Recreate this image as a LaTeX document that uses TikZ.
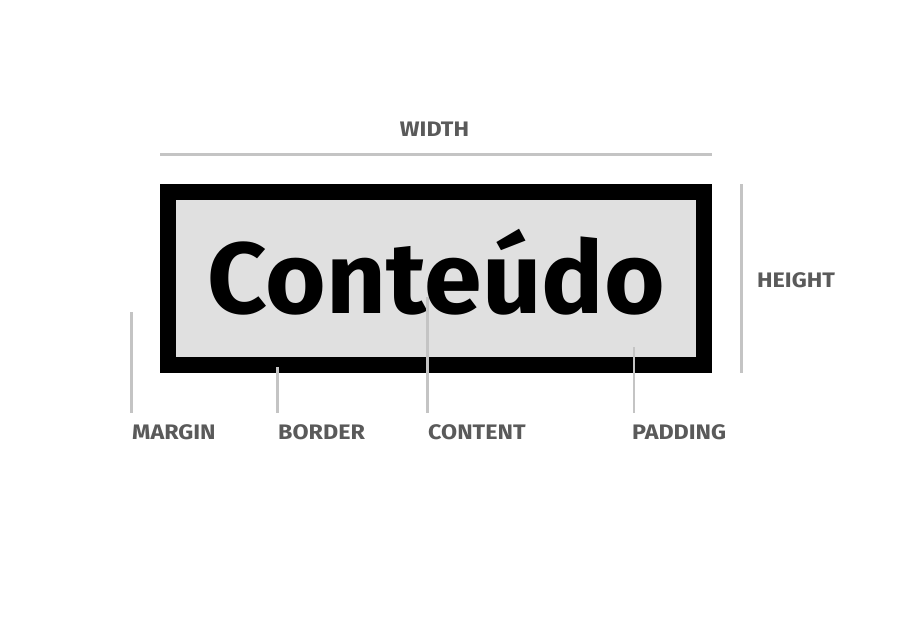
\documentclass[tikz,border=0pt]{standalone}
\usepackage{fontspec}
\setmainfont{Fira Sans}
\newfontfamily\lblfont[FakeStretch=1.11]{Fira Sans}
\newfontfamily\bigfont[FakeStretch=1.03]{Fira Sans}
\definecolor{guidegray}{HTML}{C4C4C4}
\definecolor{labelgray}{HTML}{5A5A5A}
\definecolor{innergray}{HTML}{E0E0E0}
\begin{document}
\begin{tikzpicture}[x=1pt,y=-1pt]
\tikzset{
  guide/.style={draw=guidegray,line width=2.5pt},
  lbl/.style={text=labelgray,font=\lblfont\fontsize{21}{21}\selectfont\bfseries,inner sep=0pt,anchor=base west},
  boxpart/.style={inner sep=0pt,outer sep=0pt,anchor=north west}
}
\fill[white] (0,0) rectangle (899,622);
\useasboundingbox (0,0) rectangle (899,622);
% box
\node[boxpart,fill=black,minimum width=551.4pt,minimum height=189pt] (outer) at (160.3,184) {};
\node[boxpart,fill=innergray,minimum width=520.6pt,minimum height=157.3pt] (inner) at (175.7,200) {};
\node[font=\bigfont\fontsize{101}{101}\selectfont\bfseries,anchor=base,inner sep=0pt] (content) at (436.4,313.3) {Conteúdo};
% width
\coordinate (wl) at (160.3,154.3);
\coordinate (wr) at (711.7,154.3);
\draw[guide] (wl) -- (wr);
\node[lbl,anchor=base] (widthlbl) at (434.5,136.7) {WIDTH};
% height
\coordinate (ht) at (741.7,184.3);
\coordinate (hb) at (741.7,373);
\draw[guide] (ht) -- (hb);
\node[lbl] (heightlbl) at (757,287) {HEIGHT};
% bottom labels
\node[lbl] (marginlbl) at (132,439.3) {MARGIN};
\node[lbl] (borderlbl) at (278,439.3) {BORDER};
\node[lbl] (contentlbl) at (428,439.3) {CONTENT};
\node[lbl] (paddinglbl) at (632,439.3) {PADDING};
\coordinate (mt) at (131.7,312.3);
\coordinate (mb) at (131.7,413.3);
\coordinate (bt) at (277.3,367.3);
\coordinate (bb) at (277.3,413.3);
\coordinate (ct) at (427.7,297);
\coordinate (cb) at (427.7,413.3);
\coordinate (pt) at (634,347);
\coordinate (pb) at (634,413.3);
\draw[guide] (mt) -- (mb);
\draw[guide] (bt) -- (bb);
\draw[guide] (ct) -- (cb);
\draw[guide] (pt) -- (pb);
\end{tikzpicture}
\end{document}
